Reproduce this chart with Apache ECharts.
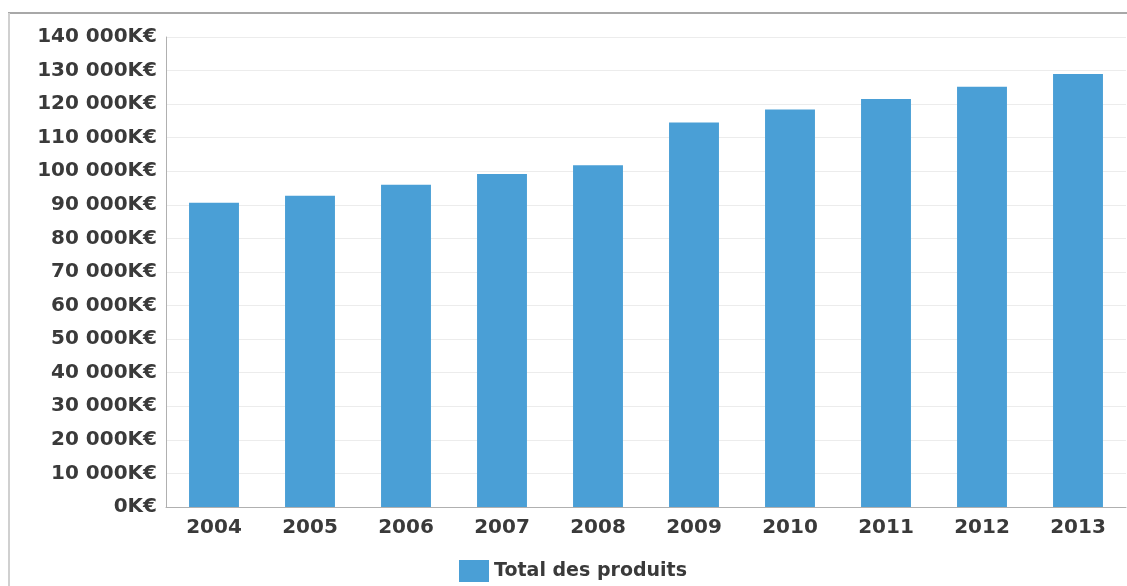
<!DOCTYPE html>
<html>
<head>
<meta charset="utf-8">
<script src="https://cdn.jsdelivr.net/npm/echarts@6/dist/echarts.min.js"></script>
<style>
html,body{margin:0;padding:0;background:#fff;}
#main{width:1127px;height:586px;}
</style>
</head>
<body>
<div id="main"></div>
<script>
const categories = ['2004','2005','2006','2007','2008','2009','2010','2011','2012','2013'];
const totalProduits = [90600, 92700, 96000, 99200, 101800, 114500, 118400, 121500, 125200, 129000];
const seriesName = 'Total des produits';

function fmt(v){
  const s = String(Math.round(v));
  return s.replace(/\B(?=(\d{3})+(?!\d))/g, ' ') + 'K€';
}

const chart = echarts.init(document.getElementById('main'));
const font = 'DejaVu Sans';
chart.setOption({
  animation: false,
  backgroundColor: '#fff',
  textStyle: { fontFamily: font },
  grid: { left: 166, right: 1, top: 37, bottom: 79, containLabel: false },
  legend: {
    left: 454, top: 555,
    itemWidth: 30, itemHeight: 22, itemGap: 8,
    icon: 'rect',
    textStyle: { fontFamily: font, fontSize: 19, fontWeight: 'bold', color: '#3a3a3a' },
    data: [seriesName]
  },
  graphic: [
    { type: 'line', shape: { x1: 8, y1: 13, x2: 1127, y2: 13 }, style: { stroke: '#a8a8a8', lineWidth: 2 } },
    { type: 'line', shape: { x1: 9, y1: 13, x2: 9, y2: 586 }, style: { stroke: '#d0d0d0', lineWidth: 2 } }
  ],
  xAxis: {
    type: 'category',
    data: categories,
    axisLine: { show: true, lineStyle: { color: '#b0b0b0', width: 1 } },
    axisTick: { show: false },
    axisLabel: { margin: 11, fontFamily: font, fontSize: 20, fontWeight: 'bold', color: '#3a3a3a' },
    splitLine: { show: false }
  },
  yAxis: {
    type: 'value',
    min: 0, max: 140000, interval: 10000,
    axisLine: { show: true, lineStyle: { color: '#b0b0b0', width: 1 } },
    axisTick: { show: false },
    axisLabel: { margin: 9, fontFamily: font, fontSize: 20, fontWeight: 'bold', color: '#3a3a3a', formatter: fmt },
    splitLine: { show: true, lineStyle: { color: '#ececec', width: 1 } }
  },
  series: [{
    name: seriesName,
    type: 'bar',
    data: totalProduits,
    barWidth: '52%',
    itemStyle: { color: '#4a9fd6' }
  }]
});
</script>
</body>
</html>
